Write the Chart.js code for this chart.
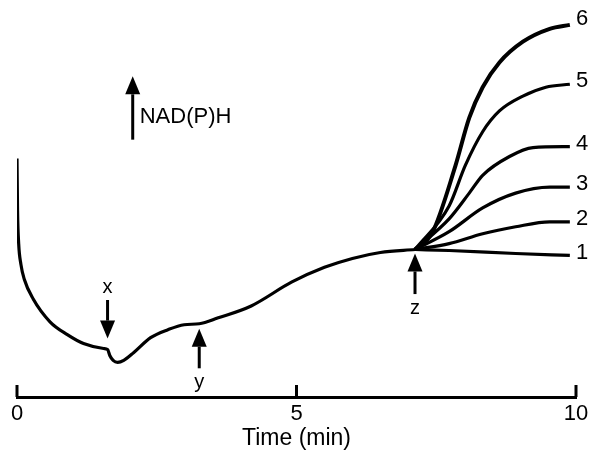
<!DOCTYPE html>
<html>
<head>
<meta charset="utf-8">
<script src="https://cdn.jsdelivr.net/npm/chart.js@4/dist/chart.umd.min.js"></script>
<style>
  html, body { margin: 0; padding: 0; background: #fff; }
  #wrap { width: 592px; height: 453px; }
</style>
</head>
<body>
<div id="wrap"><canvas id="trace" width="592" height="453"></canvas></div>
<script>
// NAD(P)H trace, arbitrary fluorescence units vs time (min)
const mainTime = [0, 0.01, 0.03, 0.07, 0.13, 0.29, 0.59, 0.90, 1.19, 1.55, 1.62, 1.66, 1.72, 1.80, 1.91, 2.09, 2.39, 2.70, 2.99, 3.26, 3.60, 4.19, 4.91, 5.5, 6.0, 6.5, 7.12];
const mainSignal = [241, 188, 155, 134, 119, 99, 76, 63, 54, 49, 48, 42, 37, 35, 37, 45, 60, 68, 73, 74, 80, 92, 116, 131, 140, 146, 149];

// branches after addition z
const branchTimes = [
  [7.12, 7.73, 8.92, 9.89],
  [7.12, 7.73, 8.33, 8.92, 9.53, 9.89],
  [7.12, 7.73, 8.33, 8.92, 9.53, 9.89],
  [7.12, 7.73, 8.09, 8.33, 8.81, 9.23, 9.89],
  [7.12, 7.73, 8.02, 8.33, 8.63, 9.05, 9.46, 9.89],
  [7.12, 7.43, 7.84, 8.09, 8.33, 8.63, 9.05, 9.53, 9.89]
];
const branchSignal = [
  [149, 148, 145, 143],
  [149, 155, 165, 172, 177, 177],
  [149, 167, 191, 206, 212, 212],
  [149, 180, 206, 224, 243, 252, 253],
  [149, 193, 234, 268, 289, 304, 313, 316],
  [149, 166, 233, 282, 313, 338, 359, 372, 376]
];
const branchLabels = ['1', '2', '3', '4', '5', '6'];

const xTicks = [0, 5, 10];

// arrows: [time, tail, tip, label, labelY]
const arrows = [
  [1.62, 98, 59, 'x', 111],
  [3.26, 29, 69, 'y', 15],
  [7.12, 104, 145, 'z', 89]
];

const FONT = '"Liberation Sans", Arial, Helvetica, sans-serif';

const toXY = (xs, ys) => xs.map((x, i) => ({ x: x, y: ys[i] }));

const datasets = [{
  data: toXY(mainTime, mainSignal),
  borderColor: '#000',
  borderWidth: 3.2,
  pointRadius: 0,
  cubicInterpolationMode: 'monotone',
  fill: false
}];
branchTimes.forEach((t, i) => {
  datasets.push({
    data: toXY(t, branchSignal[i]),
    borderColor: '#000',
    borderWidth: i === 5 ? 4 : 3.2,
    pointRadius: 0,
    cubicInterpolationMode: 'monotone',
    fill: false
  });
});

function drawArrow(ctx, x, yTail, yTip) {
  const dir = yTip < yTail ? 1 : -1; // 1 = pointing up
  const head = 18;
  ctx.lineWidth = 3;
  ctx.beginPath();
  ctx.moveTo(x, yTail);
  ctx.lineTo(x, yTip + dir * head);
  ctx.stroke();
  ctx.beginPath();
  ctx.moveTo(x, yTip);
  ctx.lineTo(x - 7.5, yTip + dir * head);
  ctx.lineTo(x + 7.5, yTip + dir * head);
  ctx.closePath();
  ctx.fill();
}

const decorations = {
  id: 'decorations',
  afterDatasetsDraw(chart) {
    const ctx = chart.ctx;
    const xs = chart.scales.x, ys = chart.scales.y;
    ctx.save();
    ctx.fillStyle = '#000';
    ctx.strokeStyle = '#000';

    // upward tick marks on the time axis
    const axisY = ys.getPixelForValue(0);
    ctx.lineWidth = 3;
    xTicks.forEach(t => {
      const px = xs.getPixelForValue(t);
      ctx.beginPath();
      ctx.moveTo(px, axisY);
      ctx.lineTo(px, axisY - 12);
      ctx.stroke();
    });

    // event arrows
    ctx.font = '20px ' + FONT;
    ctx.textAlign = 'center';
    ctx.textBaseline = 'middle';
    arrows.forEach(a => {
      const px = xs.getPixelForValue(a[0]);
      drawArrow(ctx, px, ys.getPixelForValue(a[1]), ys.getPixelForValue(a[2]));
      ctx.fillText(a[3], px, ys.getPixelForValue(a[4]));
    });

    // NAD(P)H direction arrow
    const nx = xs.getPixelForValue(2.07);
    drawArrow(ctx, nx, ys.getPixelForValue(260), ys.getPixelForValue(324));
    ctx.font = '22px ' + FONT;
    ctx.textAlign = 'left';
    ctx.fillText('NAD(P)H', nx + 7, ys.getPixelForValue(283));

    // branch numbers
    branchLabels.forEach((lab, i) => {
      const sig = branchSignal[i];
      const lift = i === 5 ? 6 : 3;
      ctx.fillText(lab, xs.getPixelForValue(10.0), ys.getPixelForValue(sig[sig.length - 1] + lift));
    });
    ctx.restore();
  }
};

new Chart(document.getElementById('trace'), {
  type: 'line',
  data: { datasets: datasets },
  options: {
    responsive: false,
    animation: false,
    layout: { padding: { left: 17, right: 16, top: 10, bottom: 0 } },
    plugins: { legend: { display: false }, tooltip: { enabled: false } },
    scales: {
      x: {
        type: 'linear',
        min: 0,
        max: 10,
        grid: { display: false },
        border: { display: true, color: '#000', width: 3 },
        afterBuildTicks: scale => { scale.ticks = xTicks.map(v => ({ value: v })); },
        ticks: { color: '#000', padding: -4, font: { family: FONT, size: 22 } },
        title: {
          display: true,
          text: 'Time (min)',
          color: '#000',
          padding: { top: 1, bottom: 1 },
          font: { family: FONT, size: 23 }
        }
      },
      y: {
        display: false,
        min: 0,
        max: 391
      }
    }
  },
  plugins: [decorations]
});
</script>
</body>
</html>
